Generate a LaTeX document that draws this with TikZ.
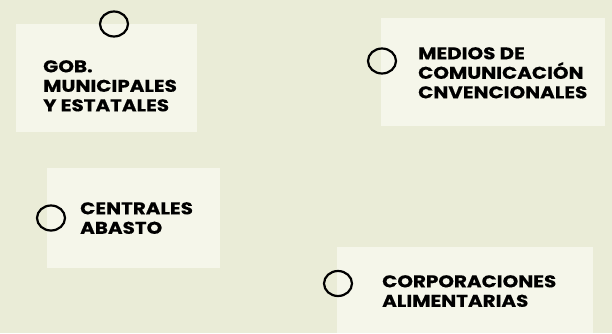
\documentclass[tikz,border=0pt]{standalone}
\usepackage{fontspec}
\setmainfont{Poppins}[BoldFont={* Bold}, BoldFeatures={FakeStretch=1.17, FakeBold=0.4}]
\usetikzlibrary{shapes.geometric}
\definecolor{bgcol}{RGB}{234,236,215}
\definecolor{boxcol}{RGB}{245,246,234}
\tikzset{
  card/.style={fill=boxcol, draw=none, inner sep=0pt, anchor=north west},
  ring/.style={ellipse, draw=black, line width=2.2pt, fill=none, minimum width=28pt, minimum height=25pt, inner sep=0pt},
  label/.style={anchor=north west, inner sep=0pt, align=left, font=\fontsize{17}{19.5}\selectfont\bfseries, text=black}
}
\begin{document}
\begin{tikzpicture}[x=1pt,y=-1pt]
\fill[bgcol] (0,0) rectangle (612,333);
\useasboundingbox (0,0) rectangle (612,333);
% cards
\node[card, minimum width=181pt, minimum height=108pt] (c1) at (16,24) {};
\node[card, minimum width=224pt, minimum height=108pt] (c2) at (381,18) {};
\node[card, minimum width=173pt, minimum height=100pt] (c3) at (47,168) {};
\node[card, minimum width=256pt, minimum height=86pt] (c4) at (337,247) {};
% rings
\node[ring] (r1) at (114,24) {};
\node[ring] (r2) at (382,61) {};
\node[ring] (r3) at (51,218) {};
\node[ring] (r4) at (338,283.5) {};
% labels
\node[label] (t1) at (43,60) {GOB.\\MUNICIPALES\\Y ESTATALES};
\node[label] (t2) at (418,47) {MEDIOS DE\\COMUNICACIÓN\\CNVENCIONALES};
\node[label] (t3) at (80,202) {CENTRALES\\ABASTO};
\node[label] (t4) at (382,275) {CORPORACIONES\\ALIMENTARIAS};
\end{tikzpicture}
\end{document}
